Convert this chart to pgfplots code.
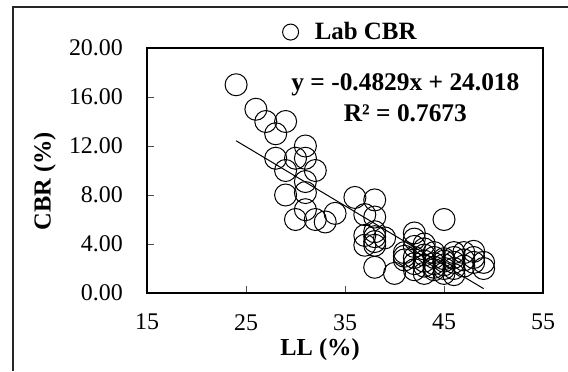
\documentclass[border=0pt]{standalone}
\usepackage{pgfplots}
\pgfplotsset{compat=1.18}
\usepackage{fontspec}
\setmainfont{Liberation Serif}
\begin{document}
\begin{tikzpicture}[x=1bp,y=1bp]
\useasboundingbox (0,0) rectangle (568,371);
\draw[line width=1.2bp, black!85] (13,0) -- (13,364) -- (568,364);
\begin{axis}[
  at={(147bp,78bp)}, anchor=south west,
  scale only axis, width=396bp, height=245bp,
  xmin=15, xmax=55, ymin=0, ymax=20,
  xtick={15,25,35,45,55}, ytick={0,4,8,12,16,20},
  xtick pos=bottom, ytick pos=left,
  tick align=inside, major tick length=7bp,
  tick style={line width=0.8bp, black!70},
  axis line style={line width=2bp},
  /pgf/number format/assume math mode=true,
  yticklabel style={/pgf/number format/fixed, /pgf/number format/fixed zerofill, /pgf/number format/precision=2},
  every tick label/.append style={font=\fontsize{24}{28}\selectfont},
  yticklabel style={anchor=east, inner sep=0pt, xshift=-24bp},
  xticklabel style={anchor=north, inner sep=0pt, yshift=-21bp},
  xlabel={LL (\%)}, ylabel={CBR (\%)},
  every axis x label/.style={at={(axis description cs:0.437,-0.233)}, anchor=center, font=\fontsize{24.5}{28}\selectfont\bfseries},
  every axis y label/.style={at={(axis description cs:-0.258,0.457)}, anchor=center, rotate=90, font=\fontsize{24.5}{28}\selectfont\bfseries},
  legend style={draw=none, fill=none, at={(axis description cs:0.51,1.065)}, anchor=center,
    font=\fontsize{25}{28}\selectfont\bfseries, inner sep=0pt, nodes={inner sep=0pt}},
  legend cell align=left,
  legend image code/.code={\draw[black, line width=1bp] (0bp,0bp) circle (8bp); \path (-9bp,0) (24bp,0);},
  clip=false,
]
\addplot[only marks, mark=o, mark size=11bp, mark options={line width=1bp, black}, draw=black] coordinates {
(24,17.0) (26,15.0) (27,14.0) (29,14.0) (28,13.0)
(28,11.0) (30,11.0) (31,12.0) (31,11.0) (29,10.0) (32,10.0)
(31,9.1) (29,8.0) (31,8.2) (31,6.8) (30,6.0) (32,6.0) (33,5.8) (34,6.5)
(36,7.8) (38,7.6) (37,6.4) (38,6.2) (37,4.7) (38,5.0) (38,4.6) (39,4.5)
(37,3.9) (38,3.9) (38,4.2) (38,2.1) (40,1.6)
(41,3.3) (41,2.7) (41,3.0) (42,4.9) (42,4.4) (42,3.8) (42,2.9) (42,2.4) (42,1.9)
(43,3.6) (43,2.6) (43,3.1) (43,2.2) (43,4.0) (43,1.6)
(44,2.9) (44,2.4) (44,2.1) (44,1.9) (44,3.3)
(45,6.0) (45,2.3) (45,1.6) (45,2.8) (45,2.0) (45,2.6)
(46,3.3) (46,1.5) (46,2.5) (46,2.9) (46,2.0)
(47,3.3) (47,2.2) (47,2.7)
(48,3.4) (48,2.5) (48,2.9)
(49,2.5) (49,2.0)
};
\addlegendentry{Lab CBR}
\addplot[black, line width=1bp, forget plot] coordinates {(24,12.428) (49,0.356)};
\node[font=\fontsize{25.5}{28}\selectfont\bfseries] at (axis cs:41.1,17.0) {y = -0.4829x + 24.018};
\node[font=\fontsize{25.5}{28}\selectfont\bfseries] at (axis cs:41.1,14.7) {R² = 0.7673};
\end{axis}
\end{tikzpicture}
\end{document}
